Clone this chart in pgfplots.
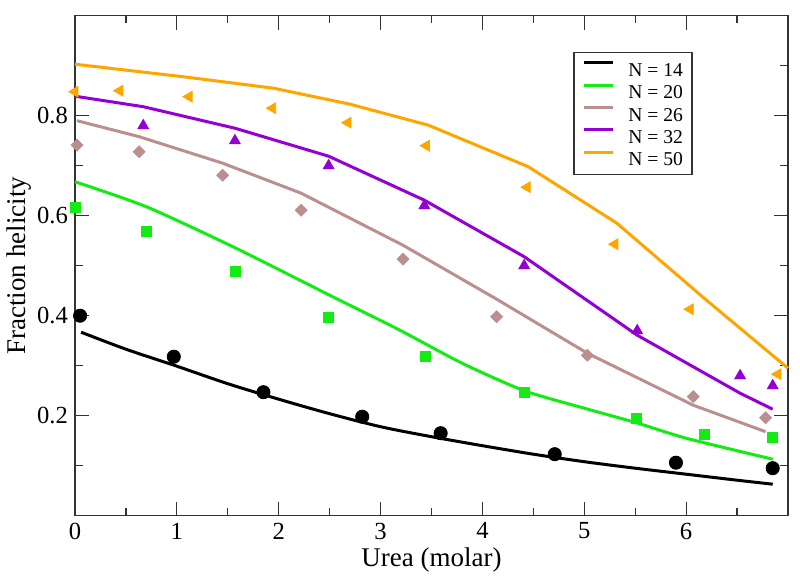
\documentclass[border=0pt]{standalone}
\usepackage{fontspec}
\setmainfont{LiberationSerif}[Extension=.ttf, UprightFont=*-Regular, BoldFont=*-Bold, ItalicFont=*-Italic, BoldItalicFont=*-BoldItalic]
\usepackage{pgfplots}
\pgfplotsset{compat=1.18}
\definecolor{cgreen}{RGB}{20,235,20}
\definecolor{cbrown}{RGB}{188,143,143}
\definecolor{cpurple}{RGB}{148,0,211}
\definecolor{corange}{RGB}{255,165,0}
\newcommand{\lf}{\fontsize{9.8}{11}\selectfont}
\begin{document}
\begin{tikzpicture}
\path[use as bounding box] (-37.5pt,-31.65pt) rectangle (362.5pt,257.85pt);
\begin{axis}[
  at={(0pt,0pt)}, anchor=south west,
  width=356.5pt, height=250pt, scale only axis,
  xmin=0, xmax=7, ymin=0, ymax=1,
  clip=false,
  xtick={0,1,2,3,4,5,6}, minor xtick={0.5,1.5,2.5,3.5,4.5,5.5,6.5},
  ytick={0.2,0.4,0.6,0.8}, minor ytick={0.1,0.3,0.5,0.7,0.9},
  tick align=inside, tick pos=both,
  major tick length=7pt, minor tick length=3.8pt,
  every tick/.style={black!80, line width=0.6pt},
  axis line style={black!80, line width=0.6pt},
  /pgf/number format/assume math mode=true,
  ticklabel style={font=\rmfamily\fontsize{12.3}{14}\selectfont},
  yticklabel style={/pgf/number format/.cd, fixed, precision=1},
  xlabel={Urea (molar)}, ylabel={Fraction helicity},
  label style={font=\rmfamily\fontsize{13.5}{16}\selectfont},
  xlabel style={at={(axis description cs:0.5,-0.102)}, anchor=base},
  ylabel style={at={(axis description cs:-0.0701,0.5)}, anchor=base},
  legend cell align=left,
  legend style={at={(rel axis cs:0.699,0.928)}, anchor=north west,
    draw=black!80, line width=0.6pt, fill=white,
    inner xsep=4.5pt, inner ysep=4.5pt, row sep=3.55pt, column sep=7pt,
    nodes={inner sep=0pt, text height=6.9pt, text depth=0pt}},
  legend image code/.code={\draw[#1, line width=1.5pt] (0pt,3.4pt) -- (14.2pt,3.4pt);},
]
% lines
\addplot[black, line width=1.5pt, smooth, no marks] coordinates {
 (0.06,0.367) (0.5,0.333) (1,0.299) (1.5,0.264) (2,0.233) (2.5,0.204) (3,0.178)
 (3.5,0.158) (4,0.140) (4.5,0.123) (5,0.108) (5.5,0.095) (6,0.083) (6.5,0.071) (6.85,0.063)};
\addlegendentry{\lf N = 14}
\addplot[cgreen, line width=1.5pt, smooth, tension=0.4, no marks] coordinates {
 (0,0.668) (0.70,0.618) (1.55,0.538) (2.53,0.438) (3.19,0.371) (3.8,0.305) (4.41,0.250)
 (5.0,0.215) (5.51,0.186) (6.0,0.155) (6.85,0.113)};
\addlegendentry{\lf N = 20}
\addplot[cbrown, line width=1.5pt, no marks] coordinates {
 (0.02,0.790) (0.63,0.758) (1.45,0.705) (2.22,0.645) (3.22,0.541) (4.14,0.433)
 (5.03,0.325) (6.07,0.221) (6.78,0.168)};
\addlegendentry{\lf N = 26}
\addplot[cpurple, line width=1.5pt, no marks] coordinates {
 (0,0.839) (0.67,0.818) (1.57,0.775) (2.49,0.719) (3.43,0.631) (4.41,0.518)
 (5.52,0.361) (6.53,0.245) (6.85,0.213)};
\addlegendentry{\lf N = 32}
\addplot[corange, line width=1.5pt, no marks] coordinates {
 (0,0.903) (1.10,0.877) (1.95,0.855) (2.70,0.823) (3.47,0.781) (4.45,0.698)
 (5.32,0.585) (6.20,0.431) (7.0,0.295)};
\addlegendentry{\lf N = 50}
% markers
\addplot[only marks, mark=*, mark size=3.3pt, black, forget plot] coordinates {
 (0.05,0.400) (0.97,0.318) (1.85,0.247) (2.82,0.198) (3.59,0.165) (4.71,0.123) (5.90,0.106) (6.85,0.095)};
\addplot[only marks, mark=square*, mark size=2.5pt, cgreen, forget plot] coordinates {
 (0,0.617) (0.70,0.568) (1.57,0.488) (2.49,0.397) (3.44,0.319) (4.41,0.247) (5.51,0.195) (6.18,0.163) (6.85,0.157)};
\addplot[only marks, mark=square*, mark size=2.1pt, mark options={rotate=45}, cbrown, forget plot] coordinates {
 (0.02,0.741) (0.63,0.728) (1.45,0.681) (2.22,0.611) (3.22,0.513) (4.14,0.398) (5.03,0.321) (6.07,0.238) (6.78,0.196)};
\addplot[only marks, mark=triangle*, mark size=3.1pt, cpurple, forget plot] coordinates {
 (0.67,0.780) (1.57,0.750) (2.49,0.700) (3.43,0.620) (4.41,0.500) (5.52,0.370) (6.53,0.280) (6.85,0.260)};
\addplot[only marks, mark=triangle*, mark size=3.1pt, mark options={rotate=90}, corange, forget plot] coordinates {
 (0.0,0.848) (0.44,0.850) (1.12,0.838) (1.94,0.815) (2.68,0.786) (3.45,0.740) (4.44,0.657) (5.30,0.543) (6.04,0.413) (6.90,0.283)};
\end{axis}
\end{tikzpicture}
\end{document}
